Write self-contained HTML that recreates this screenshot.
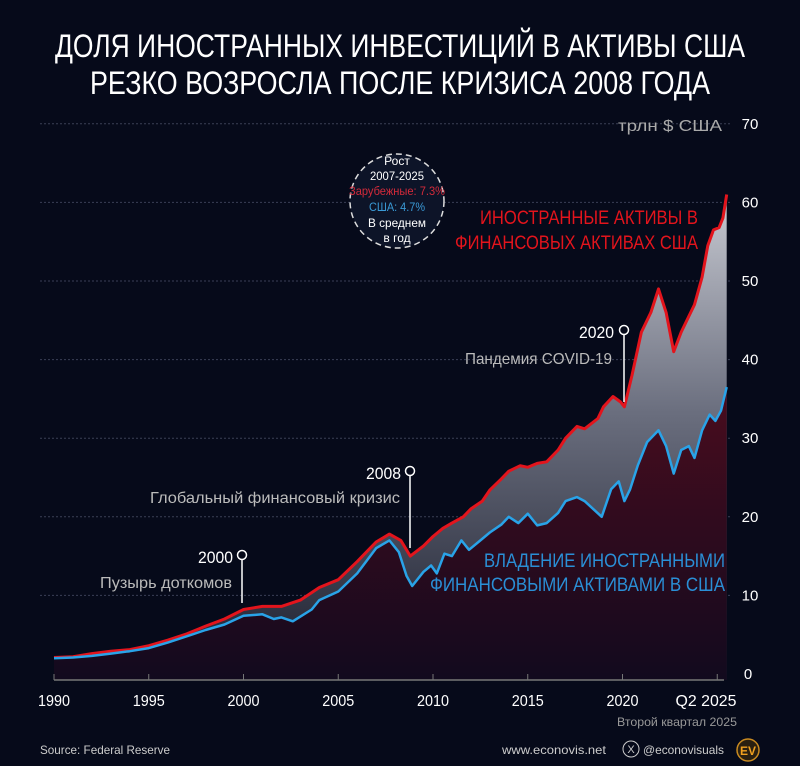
<!DOCTYPE html>
<html><head><meta charset="utf-8">
<style>
html,body{margin:0;padding:0;background:#060a1a;}
svg{display:block;}
text{font-family:"Liberation Sans",sans-serif;}
</style></head>
<body>
<svg id="s" width="800" height="766" viewBox="0 0 800 766" xmlns="http://www.w3.org/2000/svg">
<defs>
<linearGradient id="gg" x1="0" y1="0" x2="0" y2="1">
<stop offset="0" stop-color="#c8cad2"/><stop offset="0.45" stop-color="#6a6e7e"/><stop offset="1" stop-color="#1a1d2c"/>
</linearGradient>
<linearGradient id="rg" x1="0" y1="0" x2="0" y2="1">
<stop offset="0" stop-color="#4a0c1e"/><stop offset="1" stop-color="#120a1e"/>
</linearGradient>
</defs>
<rect width="800" height="766" fill="#060a1a"/>
<text x="55" y="57" fill="#fff" font-size="32" textLength="690" lengthAdjust="spacingAndGlyphs">ДОЛЯ ИНОСТРАННЫХ ИНВЕСТИЦИЙ В АКТИВЫ США</text>
<text x="90" y="94" fill="#fff" font-size="32" textLength="620" lengthAdjust="spacingAndGlyphs">РЕЗКО ВОЗРОСЛА ПОСЛЕ КРИЗИСА 2008 ГОДА</text>
<g id="grid" stroke="#3a3f55" stroke-width="1" stroke-dasharray="2,2"></g>
<g id="areas"></g>
<line x1="54" y1="680" x2="724" y2="680" stroke="#777" stroke-width="1.5"/>
<g id="ticks" stroke="#777" stroke-width="1"></g>
<g id="lbl" fill="#fff" font-size="15"></g>
<text x="618" y="131" fill="#aaa" font-size="16" textLength="104" lengthAdjust="spacingAndGlyphs">трлн $ США</text>
<g stroke="#fff" stroke-width="1.5" fill="#060a1a">
<line x1="242" y1="560" x2="242" y2="603"/><circle cx="242" cy="555" r="4.5"/>
<line x1="410" y1="476" x2="410" y2="548"/><circle cx="410" cy="471" r="4.5"/>
<line x1="624" y1="335" x2="624" y2="402"/><circle cx="624" cy="330" r="4.5"/>
</g>
<text x="198" y="563" fill="#fff" font-size="17" textLength="35" lengthAdjust="spacingAndGlyphs">2000</text>
<text x="100" y="588" fill="#bbb" font-size="16" textLength="132" lengthAdjust="spacingAndGlyphs">Пузырь доткомов</text>
<text x="366" y="479" fill="#fff" font-size="17" textLength="35" lengthAdjust="spacingAndGlyphs">2008</text>
<text x="150" y="503" fill="#bbb" font-size="16" textLength="250" lengthAdjust="spacingAndGlyphs">Глобальный финансовый кризис</text>
<text x="579" y="338" fill="#fff" font-size="17" textLength="35" lengthAdjust="spacingAndGlyphs">2020</text>
<text x="465" y="364" fill="#bbb" font-size="16" textLength="147" lengthAdjust="spacingAndGlyphs">Пандемия COVID-19</text>
<text x="480" y="224" fill="#e3141c" font-size="19" textLength="218" lengthAdjust="spacingAndGlyphs">ИНОСТРАННЫЕ АКТИВЫ В</text>
<text x="455" y="249" fill="#e3141c" font-size="19" textLength="243" lengthAdjust="spacingAndGlyphs">ФИНАНСОВЫХ АКТИВАХ США</text>
<text x="484" y="567" fill="#2a8fd6" font-size="19" textLength="241" lengthAdjust="spacingAndGlyphs">ВЛАДЕНИЕ ИНОСТРАННЫМИ</text>
<text x="430" y="591" fill="#2a8fd6" font-size="19" textLength="295" lengthAdjust="spacingAndGlyphs">ФИНАНСОВЫМИ АКТИВАМИ В США</text>
<circle cx="397" cy="201" r="47" fill="#0d1428" stroke="#ddd" stroke-width="1.5" stroke-dasharray="6,4"/>
<g font-size="12" text-anchor="middle">
<text x="397" y="165" fill="#fff">Рост</text>
<text x="397" y="180" fill="#fff" textLength="54" lengthAdjust="spacingAndGlyphs">2007-2025</text>
<text x="397" y="195" fill="#d42a3a" textLength="96" lengthAdjust="spacingAndGlyphs">Зарубежные: 7.3%</text>
<text x="397" y="211" fill="#3a9ad6" textLength="56" lengthAdjust="spacingAndGlyphs">США: 4.7%</text>
<text x="397" y="227" fill="#fff" textLength="58" lengthAdjust="spacingAndGlyphs">В среднем</text>
<text x="397" y="242" fill="#fff">в год</text>
</g>
<text x="617" y="726" fill="#999" font-size="12" textLength="120" lengthAdjust="spacingAndGlyphs">Второй квартал 2025</text>
<text x="40" y="754" fill="#ccc" font-size="12" textLength="130" lengthAdjust="spacingAndGlyphs">Source: Federal Reserve</text>
<text x="502" y="754" fill="#ccc" font-size="12" textLength="104" lengthAdjust="spacingAndGlyphs">www.econovis.net</text>
<circle cx="631" cy="749" r="8" fill="none" stroke="#ccc" stroke-width="1"/>
<text x="631" y="753" fill="#ccc" font-size="11" text-anchor="middle">X</text>
<text x="643" y="754" fill="#ccc" font-size="12" textLength="81" lengthAdjust="spacingAndGlyphs">@econovisuals</text>
<circle cx="748" cy="750" r="11" fill="#2a2010" stroke="#c98a20" stroke-width="1.5"/>
<text x="748" y="755" fill="#f0a020" font-size="12" font-weight="bold" text-anchor="middle">EV</text>
</svg>
<script>
var NS="http://www.w3.org/2000/svg";
function X(y){return 54+(y-1990)*18.95;}
function Y(v){return 674-v*7.86;}
function el(t,a,p){var e=document.createElementNS(NS,t);for(var k in a)e.setAttribute(k,a[k]);p.appendChild(e);return e;}
var g=document.getElementById('grid'),lb=document.getElementById('lbl'),tk=document.getElementById('ticks');
for(var v=10;v<=70;v+=10){el('line',{x1:40,x2:730,y1:Y(v),y2:Y(v)},g);}
for(var v=0;v<=70;v+=10){var t=el('text',{x:v==0?748:750,y:Y(v)+5,'text-anchor':'middle','font-size':15},lb);t.textContent=v;}
var yrs=[1990,1995,2000,2005,2010,2015,2020,2025],lab=['1990','1995','2000','2005','2010','2015','2020','Q2 2025'];
for(var i=0;i<yrs.length;i++){el('line',{x1:X(yrs[i]),x2:X(yrs[i]),y1:680,y2:674},tk);var t=el('text',{x:i==7?706:X(yrs[i]),y:706,'text-anchor':'middle','font-size':16,textLength:i==7?61:32,lengthAdjust:'spacingAndGlyphs'},lb);t.textContent=lab[i];}
var red=[[1990,2.1],[1991,2.2],[1992,2.6],[1993,2.9],[1994,3.1],[1995,3.6],[1996,4.3],[1997,5.1],[1998,6.1],[1999,7],[2000,8.2],[2001,8.6],[2002,8.6],[2003,9.4],[2004,11],[2005,12],[2006,14.3],[2007,16.8],[2007.7,17.8],[2008.3,17],[2008.8,15],[2009.5,16.3],[2010,17.5],[2010.5,18.5],[2011,19.2],[2011.6,20],[2012,21],[2012.6,22],[2013,23.4],[2013.6,24.8],[2014,25.8],[2014.6,26.5],[2015,26.3],[2015.5,26.8],[2016,27],[2016.6,28.5],[2017,30],[2017.6,31.5],[2018,31.2],[2018.7,32.5],[2019,34],[2019.5,35.3],[2019.9,34.6],[2020.1,34],[2020.5,38],[2021,43.5],[2021.5,46],[2021.9,49],[2022.3,46],[2022.7,41],[2023.1,43.5],[2023.5,45.5],[2023.8,47],[2024.2,50.5],[2024.5,54.5],[2024.8,56.5],[2025.1,56.8],[2025.3,58],[2025.5,61]];
var blue=[[1990,2],[1991,2.1],[1992,2.3],[1993,2.6],[1994,2.9],[1995,3.3],[1996,4],[1997,4.8],[1998,5.6],[1999,6.3],[2000,7.4],[2001,7.6],[2001.6,7],[2002,7.2],[2002.6,6.7],[2003,7.3],[2003.6,8.2],[2004,9.4],[2005,10.5],[2006,12.8],[2007,16],[2007.7,17],[2008.2,15.5],[2008.6,12.5],[2008.9,11.2],[2009.5,13],[2009.9,13.8],[2010.2,12.8],[2010.6,15.3],[2011,15],[2011.5,17],[2011.9,15.8],[2012.5,17],[2013,18],[2013.6,19],[2014,20],[2014.5,19.2],[2015,20.4],[2015.5,18.9],[2016,19.2],[2016.6,20.5],[2017,22],[2017.6,22.5],[2018,22],[2018.9,20],[2019.4,23.5],[2019.8,24.5],[2020.1,22],[2020.4,23.5],[2020.8,26.5],[2021.3,29.5],[2021.9,31],[2022.3,29],[2022.7,25.5],[2023.1,28.5],[2023.5,29],[2023.8,27.5],[2024.2,31],[2024.6,33],[2024.9,32.2],[2025.2,33.5],[2025.5,36.5]];
function pts(d){return d.map(function(p){return X(p[0]).toFixed(1)+','+Y(p[1]).toFixed(1);}).join(' L');}
var a=document.getElementById('areas');
var x0=X(1990),x1=X(2025.5);
el('path',{d:'M'+pts(red)+' L'+x1+',680 L'+x0+',680Z',fill:'url(#gg)'},a);
el('path',{d:'M'+pts(blue)+' L'+x1+',680 L'+x0+',680Z',fill:'url(#rg)'},a);
el('path',{d:'M'+pts(red),fill:'none',stroke:'#e3141c','stroke-width':3,'stroke-linejoin':'round'},a);
el('path',{d:'M'+pts(blue),fill:'none',stroke:'#29a3e8','stroke-width':2.5,'stroke-linejoin':'round'},a);
</script>
</body></html>
